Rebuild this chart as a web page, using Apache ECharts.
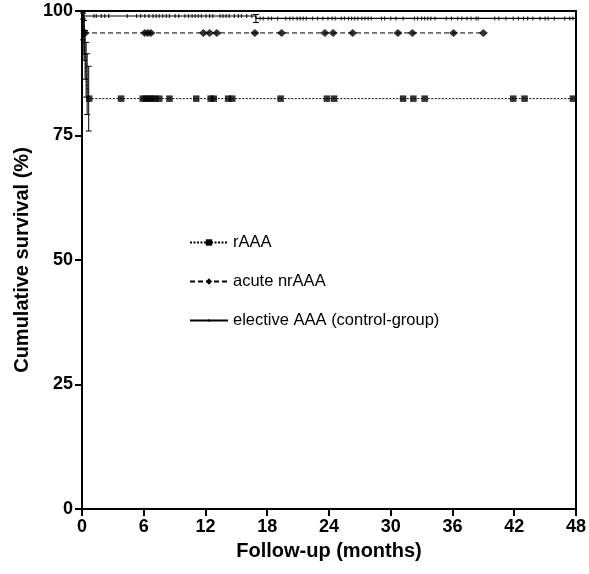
<!DOCTYPE html>
<html>
<head>
<meta charset="utf-8">
<script src="https://cdn.jsdelivr.net/npm/echarts@6/dist/echarts.min.js"></script>
<style>
html, body { margin: 0; padding: 0; background: #fff; }
#chart { width: 589px; height: 574px; }
</style>
</head>
<body>
<div id="chart"></div>
<script>
var chart = echarts.init(document.getElementById('chart'));

var names = ['rAAA', 'acute nrAAA', 'elective AAA (control-group)'];
var xTicks = [0, 6, 12, 18, 24, 30, 36, 42, 48];
var yTicks = [0, 25, 50, 75, 100];

// rAAA: step times (months), survival (%), standard error, censored times
var rTimes = [0, 0.1, 0.2, 0.3, 0.4, 0.5, 0.65];
var rSurv = [100, 97.1, 94.1, 91.2, 88.2, 85.3, 82.4];
var rErr = [0, 2.9, 4.0, 4.9, 5.5, 6.1, 6.5];
var rCensor = [0.7, 3.8, 5.9, 6.2, 6.5, 6.8, 7.1, 7.5, 8.5, 11.1, 12.5, 12.8, 14.2, 14.6,
    19.3, 23.8, 24.5, 31.2, 32.2, 33.3, 41.9, 43.0, 47.7];
var rEnd = 47.7;

// acute nrAAA
var nTimes = [0, 0.2];
var nSurv = [100, 95.6];
var nErr = [0, 4.3];
var nCensor = [0.3, 6.1, 6.4, 6.7, 11.8, 12.4, 13.1, 16.8, 19.4, 23.6, 24.4, 26.3,
    30.7, 32.1, 36.1, 39.0];
var nEnd = 39.0;

// elective AAA (control-group)
var cTimes = [0, 0.1, 16.9];
var cSurv = [100, 99.0, 98.5];
var cErr = [0, 0.6, 0.8];
var cCensor = [1.16, 1.39, 1.88, 2.2, 2.6, 4.4, 5.3, 5.7, 6.1, 6.5, 6.9, 7.2, 7.5, 7.85,
    8.2, 8.5, 9.05, 9.4, 10.0, 10.35, 10.7, 11.0, 11.3, 11.6, 12.05, 12.4, 12.7, 13.4,
    13.7, 14.0, 14.3, 14.8, 15.2, 15.5, 16.0, 16.5, 17.3, 17.6, 18.1, 18.4, 19.0, 19.8,
    20.2, 20.5, 20.9, 21.2, 21.5, 21.8, 22.4, 22.9, 23.4, 23.9, 24.3, 24.6, 25.2, 25.5,
    25.9, 26.2, 26.5, 26.8, 27.2, 27.5, 27.8, 28.1, 29.1, 29.4, 30.0, 30.5, 31.2, 32.3,
    32.6, 33.0, 33.3, 33.6, 33.9, 34.3, 35.4, 35.9, 36.5, 36.9, 37.4, 37.8, 38.3, 38.5,
    40.1, 40.5, 41.2, 41.9, 42.4, 42.9, 43.3, 43.8, 44.5, 45.0, 45.3, 45.9, 46.9, 47.4, 47.7];
var cEnd = 48;

function survAt(times, surv, t) {
    var v = surv[0];
    for (var i = 0; i < times.length; i++) {
        if (times[i] <= t) v = surv[i];
    }
    return v;
}
function stepData(times, surv, end) {
    var d = times.map(function (t, i) { return [t, surv[i]]; });
    d.push([end, surv[surv.length - 1]]);
    return d;
}
function censorData(times, surv, cens) {
    return cens.map(function (t) { return [t, survAt(times, surv, t)]; });
}
function errData(times, surv, err) {
    var d = [];
    for (var i = 1; i < times.length; i++) {
        d.push([times[i], surv[i] - err[i], Math.min(100, surv[i] + err[i])]);
    }
    return d;
}
function errRender(params, api) {
    var lo = api.coord([api.value(0), api.value(1)]);
    var hi = api.coord([api.value(0), api.value(2)]);
    var w = 3;
    var st = { stroke: '#000', lineWidth: 1 };
    return {
        type: 'group',
        children: [
            { type: 'line', shape: { x1: lo[0], y1: lo[1], x2: hi[0], y2: hi[1] }, style: st },
            { type: 'line', shape: { x1: lo[0] - w, y1: lo[1], x2: lo[0] + w, y2: lo[1] }, style: st },
            { type: 'line', shape: { x1: hi[0] - w, y1: hi[1], x2: hi[0] + w, y2: hi[1] }, style: st }
        ]
    };
}

var font = 'Liberation Sans, Arial, sans-serif';
var dotSymbol = 'path://M0,0M10,10M3.5,3.5h3v3h-3z';

var option = {
    animation: false,
    grid: {
        left: 82,
        right: 12,
        top: 11,
        bottom: 65,
        show: true,
        borderColor: '#000',
        borderWidth: 2
    },
    legend: {
        orient: 'vertical',
        left: 184,
        top: 229,
        itemWidth: 38,
        itemHeight: 8,
        itemGap: 22,
        textStyle: { fontFamily: font, fontSize: 16.5, color: '#000' },
        data: names
    },
    xAxis: {
        type: 'value',
        min: 0,
        max: 48,
        interval: 6,
        name: 'Follow-up (months)',
        nameLocation: 'middle',
        nameGap: 32,
        nameTextStyle: { fontFamily: font, fontSize: 20, fontWeight: 'bold', color: '#000' },
        axisLine: { lineStyle: { color: '#000', width: 2 } },
        axisTick: { length: 7, lineStyle: { color: '#000', width: 2 } },
        axisLabel: {
            fontFamily: font, fontSize: 18, fontWeight: 'bold', color: '#000', margin: 9,
            formatter: function (v) { return xTicks.indexOf(v) >= 0 ? String(v) : ''; }
        },
        splitLine: { show: false }
    },
    yAxis: {
        type: 'value',
        min: 0,
        max: 100,
        interval: 25,
        name: 'Cumulative survival (%)',
        nameLocation: 'middle',
        nameRotate: 90,
        nameGap: 50,
        nameTextStyle: { fontFamily: font, fontSize: 20, fontWeight: 'bold', color: '#000' },
        axisLine: { lineStyle: { color: '#000', width: 2 } },
        axisTick: { length: 7, lineStyle: { color: '#000', width: 2 } },
        axisLabel: {
            fontFamily: font, fontSize: 18, fontWeight: 'bold', color: '#000', margin: 9,
            formatter: function (v) { return yTicks.indexOf(v) >= 0 ? String(v) : ''; }
        },
        splitLine: { show: false }
    },
    series: [
        {
            name: names[0],
            type: 'line',
            step: 'end',
            symbol: 'rect',
            showSymbol: false,
            itemStyle: { color: '#000' },
            lineStyle: { color: '#000', width: 1, type: [2, 1.5] },
            data: stepData(rTimes, rSurv, rEnd),
            z: 3
        },
        {
            name: names[1],
            type: 'line',
            step: 'end',
            symbol: 'diamond',
            showSymbol: false,
            itemStyle: { color: '#000' },
            lineStyle: { color: '#000', width: 1, type: [5, 3] },
            data: stepData(nTimes, nSurv, nEnd),
            z: 3
        },
        {
            name: names[2],
            type: 'line',
            step: 'end',
            symbol: dotSymbol,
            showSymbol: false,
            itemStyle: { color: '#000' },
            lineStyle: { color: '#000', width: 1.2 },
            data: stepData(cTimes, cSurv, cEnd),
            z: 3
        },
        {
            name: 'rAAA censored',
            type: 'scatter',
            symbol: 'rect',
            symbolSize: 6.5,
            itemStyle: { color: '#000' },
            data: censorData(rTimes, rSurv, rCensor),
            z: 4
        },
        {
            name: 'nrAAA censored',
            type: 'scatter',
            symbol: 'diamond',
            symbolSize: [9, 8],
            itemStyle: { color: '#000' },
            data: censorData(nTimes, nSurv, nCensor),
            z: 4
        },
        {
            name: 'control censored',
            type: 'scatter',
            symbol: 'rect',
            symbolSize: [1.2, 4],
            itemStyle: { color: '#000' },
            data: censorData(cTimes, cSurv, cCensor),
            z: 4
        },
        {
            name: 'rAAA error',
            type: 'custom',
            renderItem: errRender,
            encode: { x: 0, y: [1, 2] },
            data: errData(rTimes, rSurv, rErr),
            z: 5
        },
        {
            name: 'nrAAA error',
            type: 'custom',
            renderItem: errRender,
            encode: { x: 0, y: [1, 2] },
            data: errData(nTimes, nSurv, nErr),
            z: 5
        },
        {
            name: 'control error',
            type: 'custom',
            renderItem: errRender,
            encode: { x: 0, y: [1, 2] },
            data: errData(cTimes, cSurv, cErr),
            z: 5
        }
    ]
};
chart.setOption(option);
</script>
</body>
</html>
